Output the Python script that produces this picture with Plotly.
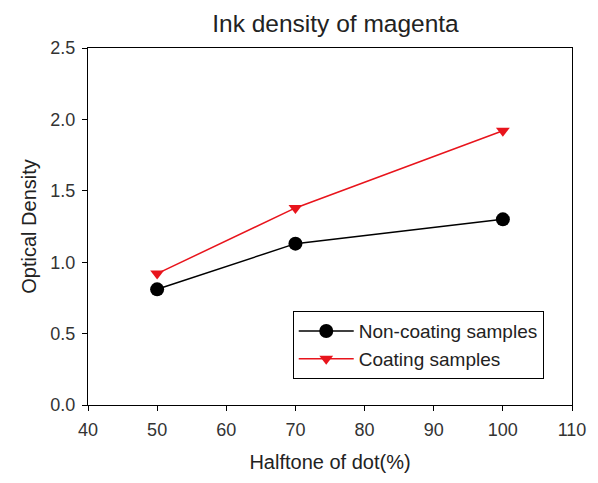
import plotly.graph_objects as go

# Halftone dot percentages and measured optical densities
halftone = [50, 70, 100]
non_coating = [0.81, 1.13, 1.30]
coating = [0.92, 1.38, 1.92]

x_ticks = [40, 50, 60, 70, 80, 90, 100, 110]
y_ticks = [0.0, 0.5, 1.0, 1.5, 2.0, 2.5]

font_family = "Liberation Sans, Arial, sans-serif"

fig = go.Figure()
fig.add_trace(go.Scatter(
    x=halftone, y=non_coating, name="Non-coating samples",
    mode="lines+markers",
    line=dict(color="black", width=1.5),
    marker=dict(symbol="circle", size=14, color="black"),
))
fig.add_trace(go.Scatter(
    x=halftone, y=coating, name="Coating samples",
    mode="lines+markers",
    line=dict(color="#e8141c", width=1.5),
    marker=dict(symbol="triangle-down", size=12, color="#e8141c"),
))

axis_common = dict(
    showgrid=False, zeroline=False,
    showline=True, linecolor="black", linewidth=1.2, mirror=True,
    ticks="outside", ticklen=5, tickwidth=1, tickcolor="black",
    ticklabelstandoff=3,
    tickfont=dict(size=18, color="#333", family=font_family),
)

fig.update_layout(
    width=598, height=483,
    margin=dict(l=88, r=19, t=48, b=78),
    paper_bgcolor="white", plot_bgcolor="white",
    title=dict(text="Ink density of magenta", x=0.561, xanchor="center",
               y=0.952, yanchor="middle",
               font=dict(size=24.5, color="#222", family=font_family)),
    xaxis=dict(range=[40, 110], tickvals=x_ticks,
               ticktext=[str(v) for v in x_ticks],
               title=dict(text="Halftone of dot(%)", standoff=16,
                          font=dict(size=20, color="#222", family=font_family)),
               **axis_common),
    yaxis=dict(range=[0, 2.5], tickvals=y_ticks,
               ticktext=[f"{v:.1f}" for v in y_ticks],
               title=dict(text="Optical Density", standoff=8,
                          font=dict(size=20, color="#222", family=font_family)),
               **axis_common),
    legend=dict(x=0.423, y=0.263, xanchor="left", yanchor="top",
                bgcolor="white", bordercolor="black", borderwidth=1,
                font=dict(size=19, color="#222", family=font_family),
                tracegroupgap=0, itemwidth=55),
    showlegend=True,
)

fig.write_html("out.html")
